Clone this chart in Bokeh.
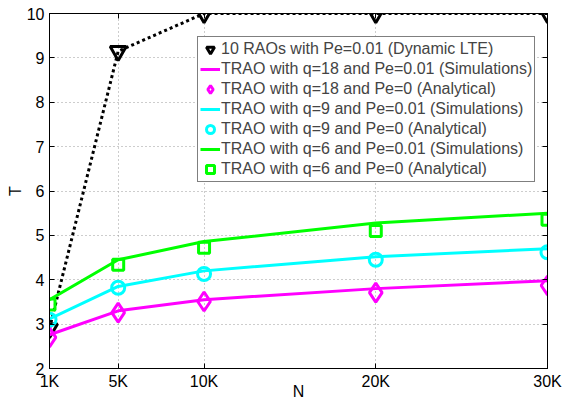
import math
from bokeh.plotting import figure
from bokeh.models import (FixedTicker, LinearAxis, Legend, LegendItem, Range1d)
from bokeh.embed import file_html
from bokeh.resources import INLINE

# ---- data ----
N = [1000, 5000, 10000, 20000, 30000]
x_tick_labels = ["1K", "5K", "10K", "20K", "30K"]
y_ticks = [2, 3, 4, 5, 6, 7, 8, 9, 10]

T_dyn = [2.9, 9.15, 10.0, 10.0, 10.0]
sim_q18 = [2.76, 3.30, 3.55, 3.80, 3.98]
ana_q18 = [2.70, 3.26, 3.51, 3.71, 3.87]
sim_q9 = [3.12, 3.85, 4.20, 4.52, 4.70]
ana_q9 = [3.10, 3.82, 4.13, 4.45, 4.62]
sim_q6 = [3.55, 4.45, 4.86, 5.28, 5.50]
ana_q6 = [3.44, 4.34, 4.72, 5.10, 5.35]

labels = [
    "10 RAOs with Pe=0.01 (Dynamic LTE)",
    "TRAO with q=18 and Pe=0.01 (Simulations)",
    "TRAO with q=18 and Pe=0 (Analytical)",
    "TRAO with q=9 and Pe=0.01 (Simulations)",
    "TRAO with q=9 and Pe=0 (Analytical)",
    "TRAO with q=6 and Pe=0.01 (Simulations)",
    "TRAO with q=6 and Pe=0 (Analytical)",
]

FONT = "Liberation Sans"

p = figure(width=564, height=402, output_backend="svg", toolbar_location=None,
           x_range=Range1d(1000, 30000), y_range=Range1d(2, 10),
           x_axis_label="N", y_axis_label="T",
           min_border_left=49, min_border_right=17, min_border_top=13, min_border_bottom=20)
p.outline_line_color = "black"
p.outline_line_width = 1

# axes
for ax in (p.xaxis[0], p.yaxis[0]):
    ax.major_tick_in = 5
    ax.major_tick_out = 0
    ax.minor_tick_in = 0
    ax.minor_tick_out = 0
    ax.major_label_text_font = FONT
    ax.major_label_text_font_size = "16px"
    ax.major_label_text_color = "black"
    ax.axis_label_text_font = FONT
    ax.axis_label_text_font_size = "16px"
    ax.axis_label_text_font_style = "normal"
    ax.axis_label_text_color = "black"
    ax.axis_line_color = "black"
    ax.major_tick_line_color = "black"
p.xaxis.ticker = FixedTicker(ticks=N)
p.xaxis.major_label_overrides = {n: s for n, s in zip(N, x_tick_labels)}
p.xaxis.major_label_standoff = 4
p.xaxis.axis_label_standoff = -10
p.yaxis.ticker = FixedTicker(ticks=y_ticks)
p.yaxis.major_label_standoff = 5
p.yaxis.axis_label_standoff = 0

# mirrored inward ticks on top/right (no labels)
top = LinearAxis(ticker=FixedTicker(ticks=N), major_tick_in=5, major_tick_out=0,
                 minor_tick_in=0, minor_tick_out=0,
                 major_label_overrides={n: "" for n in N},
                 major_label_standoff=0, axis_line_color="black")
right = LinearAxis(ticker=FixedTicker(ticks=y_ticks), major_tick_in=5, major_tick_out=0,
                   minor_tick_in=0, minor_tick_out=0,
                   major_label_overrides={t: "" for t in y_ticks},
                   major_label_standoff=0, axis_line_color="black")
p.add_layout(top, "above")
p.add_layout(right, "right")

# grid
for g in (p.xgrid[0], p.ygrid[0]):
    g.grid_line_color = "#9a9a9a"
    g.grid_line_dash = "1 3"
    g.grid_line_width = 1
p.xgrid.ticker = FixedTicker(ticks=N)
p.ygrid.ticker = FixedTicker(ticks=y_ticks)

# series
dyn_line = p.line(N, T_dyn, line_color="black", line_width=3, line_dash="3 3")
dyn_mk = p.scatter(N, T_dyn, marker="inverted_triangle", size=16, fill_color=None,
                   line_color="black", line_width=3)

l18 = p.line(N, sim_q18, line_color="#ff00ff", line_width=3)
m18 = p.scatter(N, ana_q18, marker="diamond", size=19, fill_color=None,
                line_color="#ff00ff", line_width=3)
l9 = p.line(N, sim_q9, line_color="#00ffff", line_width=3)
m9 = p.scatter(N, ana_q9, marker="circle", size=13, fill_color=None,
               line_color="#00ffff", line_width=3)
l6 = p.line(N, sim_q6, line_color="#00ff00", line_width=3)
m6 = p.scatter(N, ana_q6, marker="square", size=11, fill_color=None,
               line_color="#00ff00", line_width=3)

items = [
    LegendItem(label=labels[0], renderers=[dyn_mk]),
    LegendItem(label=labels[1], renderers=[l18]),
    LegendItem(label=labels[2], renderers=[m18]),
    LegendItem(label=labels[3], renderers=[l9]),
    LegendItem(label=labels[4], renderers=[m9]),
    LegendItem(label=labels[5], renderers=[l6]),
    LegendItem(label=labels[6], renderers=[m6]),
]
legend = Legend(items=items, location=(148, 186), margin=0, padding=2, spacing=0,
                label_height=20, glyph_height=20, glyph_width=20, label_standoff=1,
                label_text_font=FONT, label_text_font_size="16px",
                border_line_color="black", border_line_width=1,
                background_fill_color="white", background_fill_alpha=1.0)
p.add_layout(legend, "center")

open("out.html", "w").write(file_html(p, INLINE))
